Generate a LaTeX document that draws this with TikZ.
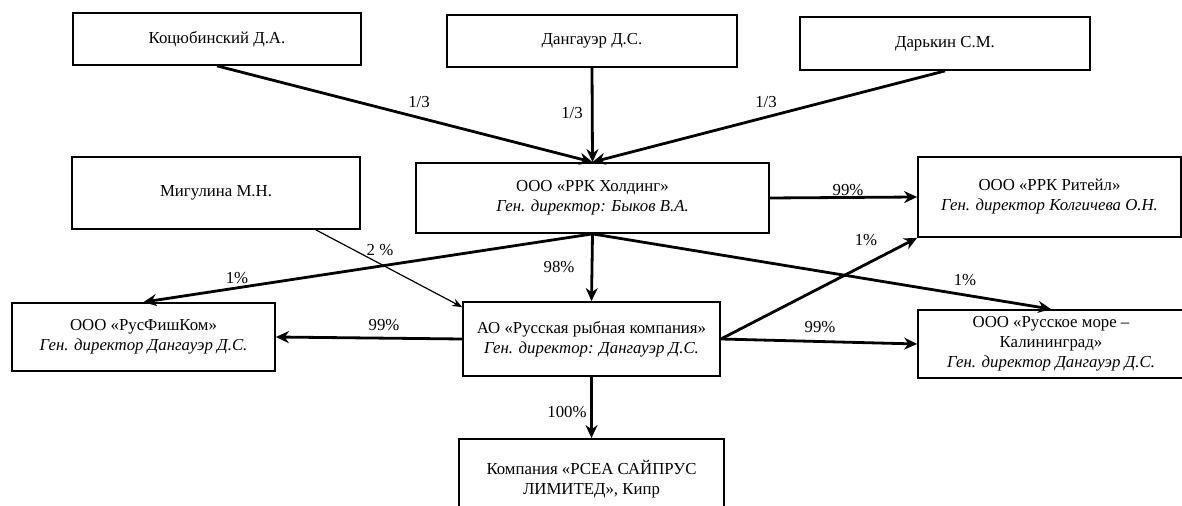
\documentclass[tikz,border=0pt]{standalone}
\usepackage{fontspec}
\setmainfont{Liberation Serif}
\usetikzlibrary{arrows.meta}

\begin{document}
\begin{tikzpicture}[x=0.5pt, y=-0.5pt,
  box/.style={draw, line width=0.9pt, align=center, inner sep=0pt, font=\fontsize{8.4}{10}\selectfont},
  arr/.style={-{Stealth[length=6.5pt, width=6pt]}, line width=1.4pt},
  lbl/.style={font=\fontsize{8.4}{10}\selectfont, inner sep=0pt}]
\useasboundingbox (0,0) rectangle (1182,506);
\clip (0,0) rectangle (1182,506);
\fill[white] (0,0) rectangle (1182,506);

% Учредители
\node[box, minimum width=144pt, minimum height=26pt] (koc) at (217,39) {Коцюбинский Д.А.};
\node[box, minimum width=145pt, minimum height=26pt] (dan) at (592,41) {Дангауэр Д.С.};
\node[box, minimum width=145pt, minimum height=26.5pt] (dar) at (945,43.5) {Дарькин С.М.};
\node[box, minimum width=144pt, minimum height=36pt] (mig) at (216,193) {Мигулина М.Н.};

% Компании
\node[box, minimum width=176.5pt, minimum height=35pt] (hold) at (592.5,198) {ООО «РРК Холдинг»\\\textit{Ген. директор: Быков В.А.}};
\node[box, minimum width=131.5pt, minimum height=40pt] (ret) at (1049.5,197) {ООО «РРК Ритейл»\\\textit{Ген. директор Колгичева О.Н.}};
\node[box, minimum width=131.5pt, minimum height=34pt] (fish) at (143.5,337) {ООО «РусФишКом»\\\textit{Ген. директор Дангауэр Д.С.}};
\node[box, minimum width=128.5pt, minimum height=37pt] (ao) at (591.5,339) {АО «Русская рыбная компания»\\\textit{Ген. директор: Дангауэр Д.С.}};
\node[box, minimum width=133pt, minimum height=34pt] (more) at (1051,344) {ООО «Русское море –\\Калининград»\\\textit{Ген. директор Дангауэр Д.С.}};
\node[box, minimum width=132.5pt, minimum height=40pt] (kom) at (591.5,479) {Компания «РСЕА САЙПРУС\\ЛИМИТЕД», Кипр};

% Доли
\draw[arr] (koc.south) -- (hold.north);
\draw[arr] (dan.south) -- (hold.north);
\draw[arr] (dar.south) -- (hold.north);
\draw[-{Stealth[length=5pt, width=4pt]}, line width=0.6pt] ([xshift=-22.5pt]mig.south east) -- ([yshift=-3pt]ao.north west);
\draw[arr] (hold.south) -- (fish.north);
\draw[arr] (hold.south) -- (ao.north);
\draw[arr] (hold.south) -- (more.north);
\draw[arr] (hold.east) -- (ret.west);
\draw[arr] (ao.east) -- (ret.south west);
\draw[arr] (ao.west) -- (fish.east);
\draw[arr] (ao.east) -- (more.west);
\draw[arr] (ao.south) -- (kom.north);

% Подписи
\node[lbl] (d1) at (419,102) {1/3};
\node[lbl] (d2) at (572,113) {1/3};
\node[lbl] (d3) at (766,102) {1/3};
\node[lbl] (d4) at (380,250) {2 \%};
\node[lbl] (d5) at (237,278) {1\%};
\node[lbl] (d6) at (384,325) {99\%};
\node[lbl] (d7) at (559,267) {98\%};
\node[lbl] (d8) at (848,190) {99\%};
\node[lbl] (d9) at (866,240) {1\%};
\node[lbl] (d10) at (965,280) {1\%};
\node[lbl] (d11) at (820,327) {99\%};
\node[lbl] (d12) at (567,412) {100\%};
\end{tikzpicture}
\end{document}
